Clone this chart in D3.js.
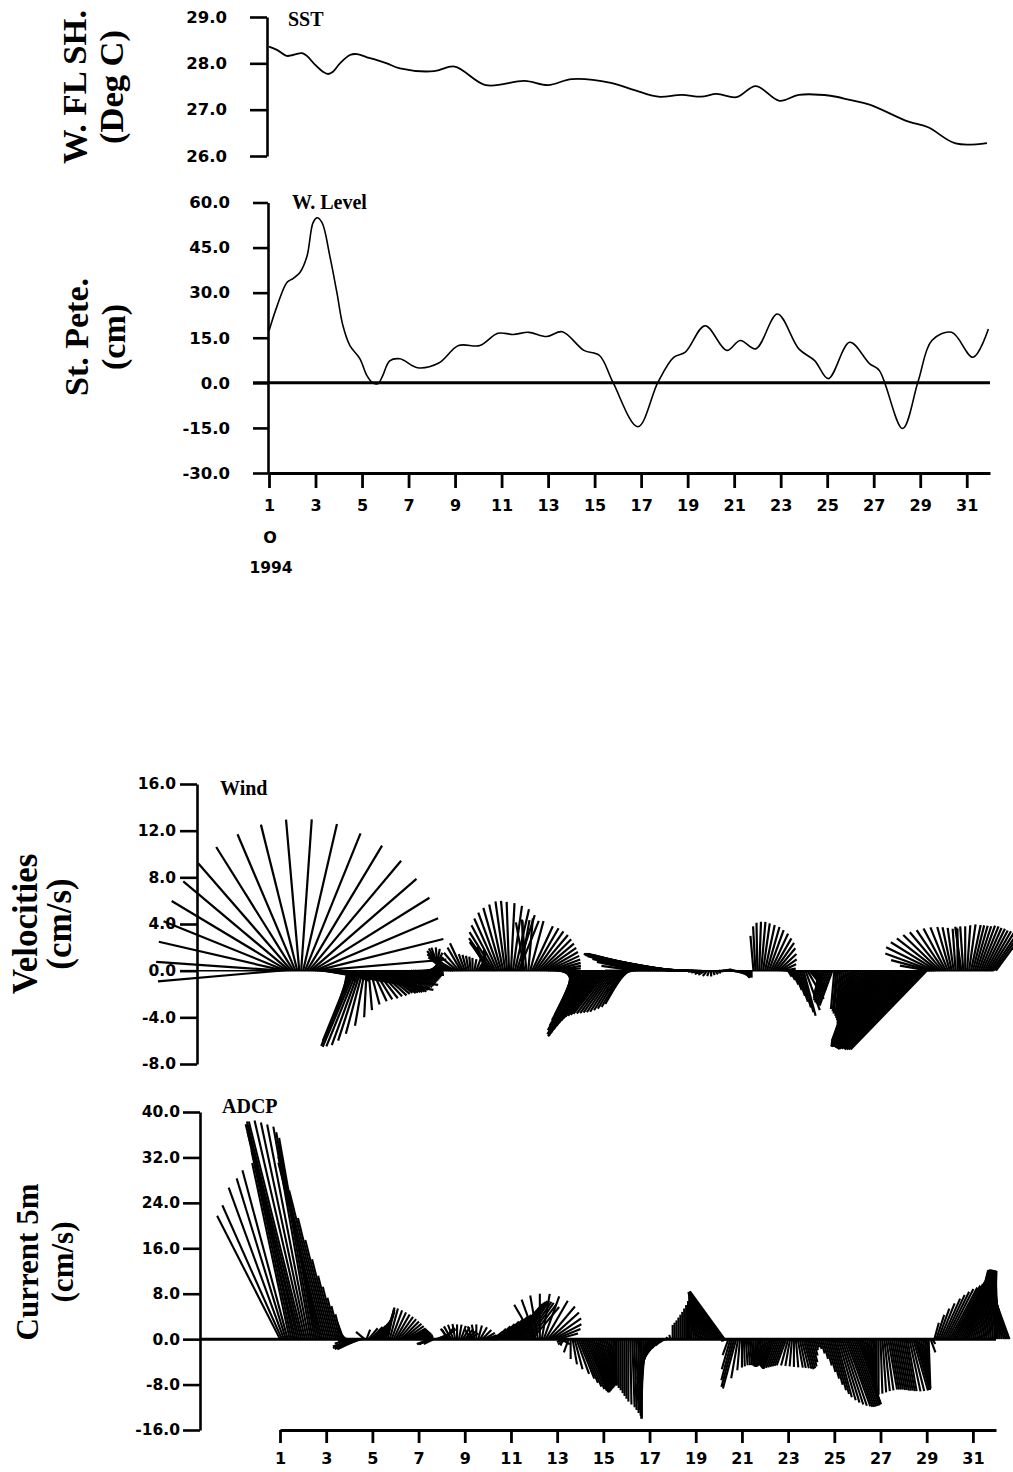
<!DOCTYPE html>
<html lang="en">
<head>
<meta charset="UTF-8">
<title>SST, water level, wind and current, October 1994</title>
<script src="https://d3js.org/d3.v7.min.js"></script>
<style>
  body { margin: 0; background: #fff; }
  svg { display: block; }
</style>
</head>
<body>
<svg id="chart" width="1013" height="1472"></svg>
<script>
// ---- data ----
const dayTicks = [1, 3, 5, 7, 9, 11, 13, 15, 17, 19, 21, 23, 25, 27, 29, 31];
const sstTicks = [26, 27, 28, 29];
const levelTicks = [-30, -15, 0, 15, 30, 45, 60];
const windTicks = [-8, -4, 0, 4, 8, 12, 16];
const adcpTicks = [-16, -8, 0, 8, 16, 24, 32, 40];

// SST (deg C), day of October
const sstDays = [1.0, 1.34, 1.77, 2.03, 2.42, 2.63, 2.98, 3.32, 3.54, 3.75, 4.05, 4.48, 4.78, 5.21, 5.64, 6.07,
  6.63, 8.1, 8.98, 10.32, 11.99, 13.0, 14.02, 15.7, 16.72, 17.73, 18.75, 19.58, 20.25, 21.1, 21.93, 22.95,
  23.78, 25.14, 25.97, 26.82, 28.5, 29.34, 30.52, 31.87];
const sstVals = [28.36, 28.29, 28.16, 28.18, 28.22, 28.16, 27.97, 27.82, 27.77, 27.82, 28.0, 28.18, 28.2, 28.13, 28.07, 28.0,
  27.89, 27.83, 27.93, 27.53, 27.62, 27.53, 27.66, 27.58, 27.42, 27.28, 27.32, 27.28, 27.34, 27.27, 27.51, 27.19,
  27.32, 27.30, 27.21, 27.11, 26.74, 26.62, 26.27, 26.28];

// St. Petersburg water level (cm)
const levelDays = [1.0, 1.35, 1.77, 2.03, 2.33, 2.63, 2.89, 3.06, 3.28, 3.62, 3.92, 4.18, 4.48, 4.91, 5.21, 5.46,
  5.68, 5.89, 6.19, 6.63, 7.39, 8.3, 9.15, 10.07, 10.84, 11.5, 12.17, 12.94, 13.61, 14.54, 15.21, 15.78,
  16.86, 17.73, 18.4, 18.9, 19.75, 20.68, 21.26, 21.93, 22.86, 23.78, 24.46, 25.05, 25.97, 26.82, 27.24,
  28.24, 28.92, 29.5, 30.35, 31.27, 31.93];
const levelVals = [17.3, 25.6, 33.4, 34.7, 36.7, 42, 53.2, 54.9, 53.3, 42, 30, 19, 12.4, 8, 2.4, 0,
  -0.3, 2.4, 7.3, 8.0, 5.0, 6.6, 12.4, 12.4, 16.5, 16.1, 16.8, 15.4, 17.0, 10.8, 9.1, 0.3,
  -14.6, 0.3, 8.5, 10.2, 19.0, 10.8, 14.1, 11.3, 22.9, 11.3, 7.4, 1.4, 13.5, 6.4, 4.1,
  -15.2, 0.8, 14.1, 16.8, 8.5, 17.9];

// sticks every 2 hours from 1 Oct 00:00; speed and direction toward (deg from north)
const stickStart = 1;
const stickStep = 2 / 24;

const windSpd = [
  10.5, 10.8, 11.0, 11.3, 11.6, 11.9, 12.2, 12.5, 12.7, 12.9, 13.0, 13.0, // 1
  12.9, 12.7, 12.5, 12.3, 12.0, 11.8, 11.5, 11.2, 11.0, 10.6, 10.0, 9.5,  // 2
  9.0, 8.5, 8.0, 7.2, 6.5, 5.5, 4.5, 3.5, 2.5, 1.5, 1.0, 1.5,             // 3
  4.0, 6.5, 7.0, 7.1, 7.0, 6.8, 6.3, 5.6, 4.8, 4.0, 3.4, 3.0,             // 4
  2.9, 2.9, 3.0, 3.0, 3.1, 3.1, 3.1, 3.2, 3.2, 3.2, 3.2, 3.2,             // 5
  3.2, 3.1, 3.0, 3.0, 2.9, 2.8, 2.7, 2.6, 2.5, 2.4, 2.3, 2.2,             // 6
  2.1, 2.0, 1.8, 1.6, 1.4, 1.3, 1.3, 1.5, 1.7, 1.9, 2.0, 2.1,             // 7
  2.2, 2.2, 2.1, 2.0, 1.8, 1.6, 1.5, 1.6, 1.8, 2.0, 2.3, 2.6,             // 8
  1.5, 1.4, 1.3, 1.2, 1.1, 1.0, 1.1, 1.2, 1.3, 1.5, 1.8, 2.2,             // 9
  2.6, 3.0, 3.4, 3.9, 4.4, 4.9, 5.3, 5.6, 5.8, 6.0, 6.0, 5.9,             // 10
  5.8, 5.6, 5.4, 5.0, 4.6, 4.4, 4.3, 4.2, 4.4, 4.5, 4.4, 4.2,             // 11
  4.2, 4.1, 4.0, 3.8, 3.6, 3.4, 3.2, 3.0, 2.8, 2.6, 2.4, 2.2,             // 12
  1.8, 1.6, 1.5, 1.5, 1.6, 1.8, 2.1, 2.5, 3.0, 3.6, 4.2, 4.8,             // 13
  5.4, 5.9, 6.3, 6.5, 6.5, 6.3, 6.0, 5.7, 5.5, 5.3, 5.1, 5.0,             // 14
  4.9, 4.8, 4.7, 4.6, 4.5, 4.4, 4.3, 4.2, 4.0, 3.8, 3.6, 3.3,             // 15
  3.0, 2.6, 2.3, 2.2, 2.5, 3.0, 3.6, 4.2, 4.8, 5.2, 5.5, 5.6,             // 16
  5.6, 5.6, 5.5, 5.4, 5.3, 5.2, 5.0, 4.8, 4.6, 4.4, 4.2, 4.0,             // 17
  3.8, 3.6, 3.4, 3.2, 3.0, 2.8, 2.6, 2.4, 2.2, 2.0, 1.8, 1.6,             // 18
  1.4, 1.2, 1.0, 0.9, 0.8, 0.7, 0.6, 0.5, 0.5, 0.4, 0.4, 0.4,             // 19
  0.4, 0.5, 0.6, 0.6, 0.6, 0.5, 0.5, 0.5, 0.6, 0.7, 0.8, 0.9,             // 20
  0.8, 0.8, 0.7, 0.6, 0.5, 0.6, 3.0, 3.8, 4.1, 4.2, 4.2, 4.1,             // 21
  4.0, 3.9, 3.7, 3.5, 3.2, 2.9, 2.5, 2.1, 1.7, 1.3, 1.0, 0.8,             // 22
  0.6, 0.9, 1.3, 1.8, 2.3, 2.8, 3.3, 3.7, 4.0, 3.6, 2.8, 2.2,             // 23
  2.0, 1.9, 1.9, 2.0, 2.1, 2.3, 2.5, 2.7, 2.9, 3.0, 3.1, 3.2,             // 24
  3.3, 3.5, 3.7, 3.9, 4.1, 4.3, 4.6, 4.9, 5.2, 5.5, 5.8, 6.1,             // 25
  6.4, 6.6, 6.8, 7.0, 7.1, 7.2, 7.2, 7.2, 7.2, 7.3, 7.4, 7.5,             // 26
  7.6, 7.7, 7.8, 7.9, 8.0, 8.1, 8.2, 8.3, 8.4, 8.5, 8.6, 8.7,             // 27
  8.8, 8.9, 9.0, 9.1, 9.2, 9.2, 9.3, 9.3, 9.3, 9.4, 9.4, 9.4,             // 28
  9.4, 2.5, 3.5, 4.3, 4.6, 4.6, 4.5, 4.4, 4.3, 4.2, 4.1, 4.0,             // 29
  3.9, 3.8, 3.7, 3.6, 3.6, 3.7, 3.8, 3.8, 3.8, 3.9, 4.0, 4.0,             // 30
  4.0, 4.0, 4.0, 4.1, 4.1, 4.0, 4.0, 3.9, 3.9, 3.8, 3.8, 3.8,             // 31
  4.5                                                                      // 32
];
const windDir = [
  265, 274, 283, 292, 301, 310, 319, 328, 337, 346, 355, 4,
  13, 22, 31, 40, 49, 58, 67, 76, 85, 92, 97, 100,
  100, 100, 98, 96, 95, 95, 97, 100, 110, 130, 160, 190,
  198, 202, 203, 203, 202, 200, 198, 195, 190, 183, 175, 165,
  155, 148, 142, 137, 133, 130, 128, 127, 126, 125, 125, 124,
  124, 122, 120, 118, 116, 114, 112, 110, 108, 106, 104, 102,
  100, 96, 92, 88, 80, 70, 55, 40, 25, 10, 355, 340,
  330, 320, 312, 305, 300, 297, 295, 300, 310, 320, 330, 335,
  340, 345, 350, 355, 0, 10, 20, 30, 20, 10, 0, 340,
  330, 325, 325, 328, 332, 336, 340, 344, 348, 352, 355, 358,
  3, 8, 13, 18, 22, 10, 0, 350, 355, 5, 15, 25,
  30, 35, 40, 45, 50, 55, 60, 65, 70, 75, 80, 85,
  95, 100, 110, 125, 140, 155, 170, 185, 195, 202, 206, 208,
  209, 210, 210, 210, 211, 212, 213, 214, 215, 216, 217, 218,
  218, 218, 218, 217, 216, 215, 214, 213, 212, 211, 210, 210,
  215, 225, 240, 255, 270, 278, 282, 284, 285, 285, 285, 285,
  285, 285, 284, 284, 283, 283, 282, 282, 281, 281, 280, 280,
  279, 278, 277, 276, 275, 274, 273, 272, 271, 270, 270, 270,
  270, 270, 265, 260, 250, 240, 220, 200, 180, 160, 140, 120,
  100, 90, 85, 80, 85, 90, 95, 100, 105, 110, 115, 120,
  130, 140, 150, 160, 170, 180, 355, 357, 359, 2, 5, 8,
  12, 16, 20, 25, 30, 35, 40, 47, 55, 65, 80, 100,
  150, 152, 155, 158, 160, 162, 163, 164, 165, 160, 150, 140,
  140, 150, 165, 180, 190, 195, 198, 200, 200, 200, 200, 200,
  185, 185, 186, 186, 187, 188, 189, 190, 192, 194, 196, 198,
  200, 201, 202, 203, 204, 205, 206, 207, 208, 209, 210, 211,
  212, 213, 214, 215, 216, 217, 218, 219, 220, 220, 221, 221,
  222, 222, 223, 223, 223, 224, 224, 224, 224, 224, 224, 224,
  224, 280, 285, 290, 296, 302, 308, 314, 320, 326, 332, 338,
  344, 348, 352, 356, 0, 356, 352, 356, 0, 4, 8, 12,
  14, 16, 18, 20, 22, 24, 26, 28, 30, 32, 34, 35,
  36
];

const adcpSpd = [
  24.4, 25.8, 28.4, 29.6, 30.8, 31.7, 34.0, 36.0, 37.5, 38.5, 39.0, 39.5, // 1
  39.5, 39.5, 39.0, 38.5, 38.0, 37.0, 36.0, 35.0, 34.0, 33.0, 32.0, 31.0, // 2
  27.0, 22.0, 18.0, 14.5, 11.5, 9.5, 7.5, 6.0, 4.5, 3.2, 2.5, 2.5,        // 3
  2.0, 3.0, 3.8, 4.2, 4.3, 4.2, 3.8, 3.0, 2.0, 1.8, 2.5, 3.0,             // 4
  3.3, 3.6, 4.0, 4.4, 4.8, 5.2, 5.5, 5.6, 5.7, 5.6, 5.4, 5.2,             // 5
  5.0, 4.8, 4.6, 4.4, 4.2, 4.0, 3.8, 3.6, 3.4, 3.2, 3.0, 2.8,             // 6
  2.6, 2.3, 1.8, 1.0, 0.8, 1.8, 2.5, 2.6, 2.0, 1.5, 2.5, 3.0,             // 7
  3.0, 2.8, 2.5, 2.0, 2.4, 2.6, 2.7, 2.7, 2.6, 2.6, 2.5, 2.4,             // 8
  2.3, 2.2, 2.0, 2.0, 2.4, 2.6, 2.6, 2.5, 2.4, 2.3, 2.2, 2.0,             // 9
  1.8, 1.5, 1.5, 2.0, 2.6, 3.2, 3.8, 4.4, 5.0, 5.5, 6.0, 6.4,             // 10
  6.8, 7.1, 7.4, 7.6, 7.8, 7.9, 8.0, 8.0, 7.9, 7.8, 7.6, 7.4,             // 11
  7.0, 7.4, 7.8, 8.0, 8.1, 8.0, 7.8, 7.5, 7.0, 6.4, 5.6, 4.8,             // 12
  3.8, 2.8, 1.8, 1.2, 1.5, 1.8, 2.5, 3.5, 4.5, 5.5, 6.5, 7.5,             // 13
  8.3, 9.0, 9.5, 9.8, 10.0, 10.0, 9.8, 9.6, 9.4, 9.2, 9.0, 8.8,           // 14
  8.6, 8.4, 8.2, 8.0, 7.8, 7.8, 7.9, 8.2, 8.6, 9.0, 9.5, 10.0,            // 15
  10.5, 11.0, 11.5, 12.0, 12.5, 13.0, 13.5, 14.0, 14.0, 13.5, 12.5, 11.0, // 16
  9.0, 7.5, 6.0, 4.8, 3.8, 3.0, 2.3, 1.7, 1.2, 0.8, 0.6, 0.8,             // 17
  2.5, 2.9, 3.3, 3.8, 4.3, 4.8, 5.4, 6.0, 6.7, 7.4, 8.0, 8.3,             // 18
  8.3, 8.3, 8.4, 8.5, 8.6, 8.7, 8.8, 8.9, 9.0, 9.2, 9.4, 9.6,             // 19
  9.9, 10.0, 10.2, 10.4, 1.0, 3.0, 5.5, 7.5, 8.7, 9.0, 7.0, 5.5,          // 20
  5.0, 4.8, 4.6, 4.6, 4.6, 4.7, 4.8, 4.9, 4.9, 4.8, 4.7, 4.6,             // 21
  4.8, 5.0, 5.2, 5.4, 5.5, 5.5, 5.4, 5.3, 5.2, 5.1, 5.0, 4.9,             // 22
  4.8, 4.8, 4.8, 4.9, 5.0, 5.1, 5.2, 5.3, 5.4, 5.5, 5.3, 5.0,             // 23
  4.2, 3.0, 2.0, 1.5, 1.8, 2.6, 3.6, 4.8, 6.0, 7.2, 8.3, 9.3,             // 24
  10.0, 10.6, 11.2, 11.7, 12.1, 12.4, 12.6, 12.7, 12.7, 12.6, 12.5, 12.4, // 25
  12.2, 11.9, 11.6, 11.3, 11.0, 10.7, 10.4, 10.2, 10.0, 9.9, 9.8, 9.8,    // 26
  9.6, 9.4, 9.2, 9.1, 9.0, 9.0, 9.0, 9.0, 9.1, 9.1, 9.2, 9.2,             // 27
  9.2, 9.3, 9.3, 9.4, 9.4, 9.4, 9.3, 9.2, 9.1, 9.0, 8.9, 8.8,             // 28
  8.8, 8.6, 2.5, 1.0, 3.0, 4.5, 5.7, 6.8, 7.8, 8.6, 9.3, 9.9,             // 29
  10.3, 10.7, 11.0, 11.3, 11.6, 11.8, 12.0, 12.2, 12.3, 12.4, 12.5, 12.5, // 30
  12.5, 12.5, 12.5, 12.4, 12.4, 12.3, 12.3, 12.2, 12.2, 12.1, 12.1, 12.0, // 31
  12.0, 12.0, 11.9, 11.8, 11.7, 11.6, 11.5, 11.4                          // 32
];
const adcpDir = [
  333, 336, 340, 343, 345, 348, 348, 348, 347, 347, 346, 346,
  346, 347, 348, 349, 350, 350, 350, 349, 348, 347, 346, 346,
  346, 346, 346, 346, 346, 346, 346, 346, 346, 340, 320, 290,
  260, 255, 250, 248, 246, 245, 250, 270, 310, 20, 40, 45,
  45, 42, 38, 35, 30, 25, 20, 15, 12, 15, 20, 25,
  30, 35, 40, 45, 50, 55, 60, 62, 64, 66, 68, 70,
  75, 80, 90, 110, 200, 240, 250, 250, 245, 70, 65, 60,
  55, 45, 35, 330, 320, 330, 340, 350, 0, 10, 20, 30,
  40, 50, 60, 330, 340, 350, 0, 15, 30, 45, 60, 70,
  80, 90, 60, 50, 45, 45, 45, 45, 45, 45, 45, 45,
  42, 40, 38, 36, 35, 34, 33, 33, 34, 35, 37, 40,
  330, 340, 350, 0, 10, 20, 30, 40, 48, 55, 62, 68,
  75, 90, 120, 200, 250, 240, 200, 180, 170, 165, 160, 158,
  158, 158, 158, 158, 159, 160, 161, 162, 163, 164, 165, 166,
  167, 168, 170, 172, 174, 176, 178, 180, 180, 180, 180, 180,
  180, 180, 179, 178, 178, 178, 178, 179, 180, 182, 185, 190,
  195, 200, 205, 210, 215, 220, 225, 230, 240, 260, 300, 340,
  0, 0, 0, 0, 0, 0, 0, 0, 0, 359, 357, 355,
  352, 349, 347, 345, 343, 341, 339, 337, 335, 333, 331, 329,
  327, 326, 325, 324, 250, 200, 196, 195, 195, 195, 190, 185,
  180, 178, 176, 175, 175, 176, 178, 180, 182, 184, 186, 188,
  190, 192, 194, 196, 198, 200, 200, 200, 200, 200, 200, 200,
  195, 190, 185, 180, 175, 170, 168, 166, 165, 165, 165, 165,
  165, 165, 165, 165, 165, 165, 165, 165, 165, 165, 165, 165,
  165, 165, 164, 163, 162, 161, 160, 160, 160, 160, 160, 160,
  160, 162, 164, 166, 168, 170, 172, 174, 176, 178, 180, 180,
  178, 176, 174, 172, 170, 170, 170, 170, 170, 170, 170, 170,
  170, 170, 170, 168, 166, 164, 164, 166, 168, 170, 172, 174,
  176, 178, 160, 150, 15, 18, 20, 22, 24, 25, 26, 27,
  28, 28, 28, 27, 26, 25, 24, 22, 20, 18, 16, 14,
  13, 12, 11, 10, 9, 8, 7, 6, 5, 4, 3, 2,
  0, 358, 355, 352, 349, 346, 343, 340
];

// ---- drawing ----
const svg = d3.select("#chart");
const numFont = "DejaVu Sans, Verdana, sans-serif";
const serifFont = "Liberation Serif, Times New Roman, serif";

const xTop = d3.scaleLinear().domain([1, 32]).range([269, 990]);
const xLow = d3.scaleLinear().domain([1, 32]).range([280, 996]);
const ySst = d3.scaleLinear().domain([26, 29]).range([156, 17]);
const yLevel = d3.scaleLinear().domain([-30, 60]).range([473, 202.5]);
const yWind = d3.scaleLinear().domain([-8, 16]).range([1064, 784]);
const yAdcp = d3.scaleLinear().domain([-16, 40]).range([1430, 1112]);

// plain hyphen for negatives, as in the original figure
const oneDecimal = d => d.toFixed(1);

function styleAxis(g, size, width) {
  g.attr("font-family", numFont).attr("font-size", size).attr("font-weight", "bold");
  g.select(".domain").attr("stroke", "#000").attr("stroke-width", width);
  g.selectAll(".tick line").attr("stroke", "#000").attr("stroke-width", width);
  g.selectAll(".tick text").attr("fill", "#000");
}

function yAxis(scale, ticks, x, len, pad, size) {
  const g = svg.append("g")
    .attr("transform", `translate(${x},0)`)
    .call(d3.axisLeft(scale).tickValues(ticks).tickSize(len).tickSizeOuter(0)
      .tickPadding(pad).tickFormat(oneDecimal));
  styleAxis(g, size, 2.6);
  return g;
}

function xAxis(scale, y, len, pad) {
  const g = svg.append("g")
    .attr("transform", `translate(0,${y})`)
    .call(d3.axisBottom(scale).tickValues(dayTicks).tickSize(len).tickSizeOuter(0)
      .tickPadding(pad).tickFormat(d3.format("d")));
  styleAxis(g, 16, 2.8);
  return g;
}

function yTitle(lines, x1, x2, cy, size) {
  [x1, x2].forEach((bx, i) => {
    svg.append("text")
      .attr("transform", `translate(${bx},${cy}) rotate(-90)`)
      .attr("text-anchor", "middle")
      .attr("font-family", serifFont)
      .attr("font-weight", "bold")
      .attr("font-size", size)
      .text(lines[i]);
  });
}

function tag(text, x, y) {
  svg.append("text")
    .attr("x", x).attr("y", y)
    .attr("font-family", serifFont)
    .attr("font-weight", "bold")
    .attr("font-size", 20)
    .text(text);
}

function drawSticks(spd, dir, x, y, width) {
  const k = y(0) - y(1); // px per unit, used for both components
  const sticks = spd.map((s, i) => {
    const a = dir[i] * Math.PI / 180;
    return { t: stickStart + i * stickStep, u: s * Math.sin(a), v: s * Math.cos(a) };
  });
  svg.append("g").selectAll("line").data(sticks).join("line")
    .attr("x1", d => x(d.t))
    .attr("y1", y(0))
    .attr("x2", d => x(d.t) + d.u * k)
    .attr("y2", d => y(d.v))
    .attr("stroke", "#000")
    .attr("stroke-width", width);
}

const smooth = d3.curveCatmullRom.alpha(0.5);

// panel 1: SST
yAxis(ySst, sstTicks, 267, 17, 23, 16.5);
svg.append("path")
  .datum(sstDays.map((d, i) => [d, sstVals[i]]))
  .attr("fill", "none").attr("stroke", "#000").attr("stroke-width", 1.8)
  .attr("d", d3.line().x(d => xTop(d[0])).y(d => ySst(d[1])).curve(smooth));
tag("SST", 288, 26);
yTitle(["W. FL SH.", "(Deg C)"], 86, 123, 87, 34.5);

// panel 2: water level
svg.append("line")
  .attr("x1", 253).attr("x2", xTop(32))
  .attr("y1", yLevel(0)).attr("y2", yLevel(0))
  .attr("stroke", "#000").attr("stroke-width", 3);
yAxis(yLevel, levelTicks, 268, 15, 23, 16.5);
xAxis(xTop, yLevel(-30), 15, 12);
svg.append("path")
  .datum(levelDays.map((d, i) => [d, levelVals[i]]))
  .attr("fill", "none").attr("stroke", "#000").attr("stroke-width", 1.6)
  .attr("d", d3.line().x(d => xTop(d[0])).y(d => yLevel(d[1])).curve(smooth));
tag("W. Level", 292, 209);
yTitle(["St. Pete.", "(cm)"], 88, 125, 337, 34);
svg.append("text").attr("x", 270).attr("y", 543).attr("text-anchor", "middle")
  .attr("font-family", numFont).attr("font-weight", "bold").attr("font-size", 16).text("O");
svg.append("text").attr("x", 271).attr("y", 573).attr("text-anchor", "middle")
  .attr("font-family", numFont).attr("font-weight", "bold").attr("font-size", 15.5).text("1994");

// panel 3: wind sticks
svg.append("line")
  .attr("x1", 197).attr("x2", xLow(31.9))
  .attr("y1", yWind(0)).attr("y2", yWind(0))
  .attr("stroke", "#000").attr("stroke-width", 1.5);
drawSticks(windSpd, windDir, xLow, yWind, 2.2);
yAxis(yWind, windTicks, 197, 17, 4, 15.5);
tag("Wind", 220, 795);
yTitle(["Velocities", "(cm/s)"], 37, 71, 924, 35);

// panel 4: ADCP current sticks
svg.append("line")
  .attr("x1", 200).attr("x2", xLow(32))
  .attr("y1", yAdcp(0)).attr("y2", yAdcp(0))
  .attr("stroke", "#000").attr("stroke-width", 3);
drawSticks(adcpSpd, adcpDir, xLow, yAdcp, 2.1);
yAxis(yAdcp, adcpTicks, 200, 17, 3, 15.5);
xAxis(xLow, 1430, 13, 10);
tag("ADCP", 222, 1113);
yTitle(["Current 5m", "(cm/s)"], 38, 73, 1262, 31);
</script>
</body>
</html>
